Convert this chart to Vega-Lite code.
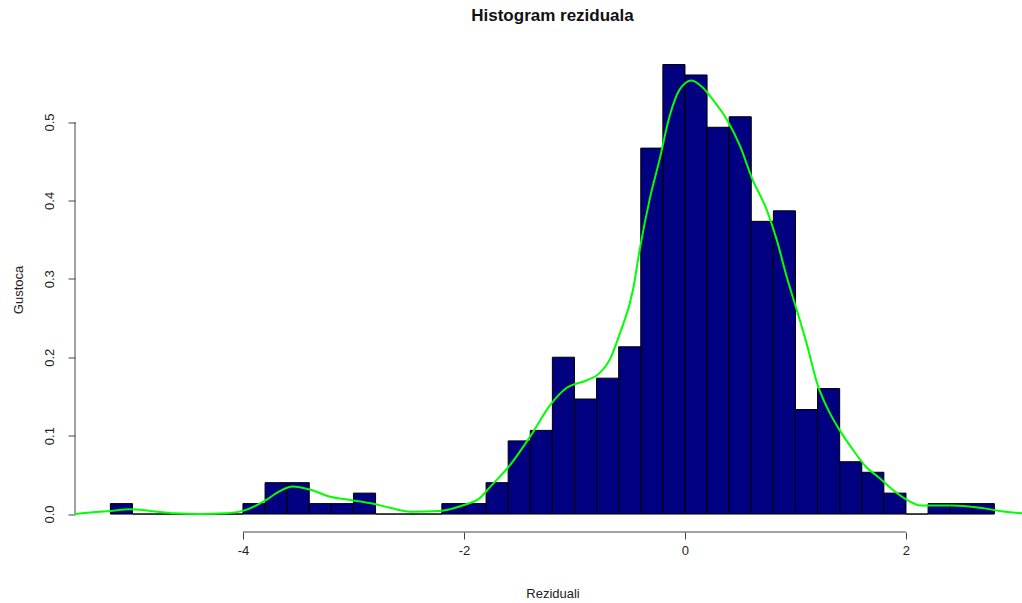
{
  "$schema": "https://vega.github.io/schema/vega-lite/v6.json",
  "width": 947,
  "height": 485.5,
  "autosize": {"type": "none"},
  "padding": {"left": 75, "top": 46.5, "right": 0, "bottom": 71},
  "background": "white",
  "title": {
    "text": "Histogram reziduala",
    "font": "Liberation Sans",
    "fontSize": 17,
    "fontWeight": "bold",
    "color": "#111",
    "anchor": "middle",
    "frame": "group",
    "dx": 4,
    "offset": 22
  },
  "config": {
    "view": {"stroke": null},
    "axis": {
      "domain": false,
      "grid": false,
      "tickColor": "#444",
      "tickSize": 7,
      "tickWidth": 1,
      "labelFont": "Liberation Sans",
      "labelFontSize": 13,
      "labelColor": "#222",
      "titleFont": "Liberation Sans",
      "titleFontSize": 13,
      "titleFontWeight": "normal",
      "titleColor": "#222"
    }
  },
  "layer": [
    {
      "data": {
        "values": [
          {"bin_start": -5.2, "bin_end": -5.0, "density": 0.0133},
          {"bin_start": -5.0, "bin_end": -4.8, "density": 0},
          {"bin_start": -4.8, "bin_end": -4.6, "density": 0},
          {"bin_start": -4.6, "bin_end": -4.4, "density": 0},
          {"bin_start": -4.4, "bin_end": -4.2, "density": 0},
          {"bin_start": -4.2, "bin_end": -4.0, "density": 0},
          {"bin_start": -4.0, "bin_end": -3.8, "density": 0.0133},
          {"bin_start": -3.8, "bin_end": -3.6, "density": 0.04},
          {"bin_start": -3.6, "bin_end": -3.4, "density": 0.04},
          {"bin_start": -3.4, "bin_end": -3.2, "density": 0.0133},
          {"bin_start": -3.2, "bin_end": -3.0, "density": 0.0133},
          {"bin_start": -3.0, "bin_end": -2.8, "density": 0.0267},
          {"bin_start": -2.8, "bin_end": -2.6, "density": 0},
          {"bin_start": -2.6, "bin_end": -2.4, "density": 0},
          {"bin_start": -2.4, "bin_end": -2.2, "density": 0},
          {"bin_start": -2.2, "bin_end": -2.0, "density": 0.0133},
          {"bin_start": -2.0, "bin_end": -1.8, "density": 0.0133},
          {"bin_start": -1.8, "bin_end": -1.6, "density": 0.04},
          {"bin_start": -1.6, "bin_end": -1.4, "density": 0.0933},
          {"bin_start": -1.4, "bin_end": -1.2, "density": 0.1067},
          {"bin_start": -1.2, "bin_end": -1.0, "density": 0.2},
          {"bin_start": -1.0, "bin_end": -0.8, "density": 0.1467},
          {"bin_start": -0.8, "bin_end": -0.6, "density": 0.1733},
          {"bin_start": -0.6, "bin_end": -0.4, "density": 0.2133},
          {"bin_start": -0.4, "bin_end": -0.2, "density": 0.4667},
          {"bin_start": -0.2, "bin_end": 0.0, "density": 0.5733},
          {"bin_start": 0.0, "bin_end": 0.2, "density": 0.56},
          {"bin_start": 0.2, "bin_end": 0.4, "density": 0.4933},
          {"bin_start": 0.4, "bin_end": 0.6, "density": 0.5067},
          {"bin_start": 0.6, "bin_end": 0.8, "density": 0.3733},
          {"bin_start": 0.8, "bin_end": 1.0, "density": 0.3867},
          {"bin_start": 1.0, "bin_end": 1.2, "density": 0.1333},
          {"bin_start": 1.2, "bin_end": 1.4, "density": 0.16},
          {"bin_start": 1.4, "bin_end": 1.6, "density": 0.0667},
          {"bin_start": 1.6, "bin_end": 1.8, "density": 0.0533},
          {"bin_start": 1.8, "bin_end": 2.0, "density": 0.0267},
          {"bin_start": 2.0, "bin_end": 2.2, "density": 0},
          {"bin_start": 2.2, "bin_end": 2.4, "density": 0.0133},
          {"bin_start": 2.4, "bin_end": 2.6, "density": 0.0133},
          {"bin_start": 2.6, "bin_end": 2.8, "density": 0.0133}
        ]
      },
      "mark": {"type": "rect", "fill": "#000080", "stroke": "#000000", "strokeWidth": 1},
      "encoding": {
        "x": {
          "field": "bin_start",
          "type": "quantitative",
          "scale": {"domain": [-5.52, 3.05], "nice": false, "zero": false},
          "axis": {"values": [-4, -2, 0, 2], "labelExpr": "'' + datum.value", "labelPadding": 5, "titleX": 477.5, "titleY": 61, "titleBaseline": "middle", "titleAlign": "center"},
          "title": "Reziduali"
        },
        "x2": {"field": "bin_end"},
        "y": {
          "field": "density",
          "type": "quantitative",
          "scale": {"domain": [-0.0229, 0.5963], "nice": false, "zero": false},
          "axis": {"values": [0, 0.1, 0.2, 0.3, 0.4, 0.5], "format": ".1f", "labelAngle": -90, "labelAlign": "center", "labelBaseline": "bottom", "labelPadding": 12, "titleX": -57, "titleY": 243, "titleBaseline": "middle", "titleAlign": "center", "titleAngle": -90},
          "title": "Gustoca"
        },
        "y2": {"datum": 0}
      }
    },
    {
      "data": {
        "values": [
          {"x1": -4, "x2": 2, "y1": -0.0229, "y2": -0.0229},
          {"x1": -5.52, "x2": -5.52, "y1": 0, "y2": 0.5}
        ]
      },
      "mark": {"type": "rule", "color": "#444", "strokeWidth": 1},
      "encoding": {
        "x": {"field": "x1", "type": "quantitative", "title": "Reziduali"},
        "x2": {"field": "x2"},
        "y": {"field": "y1", "type": "quantitative", "title": "Gustoca"},
        "y2": {"field": "y2"}
      }
    },
    {
      "data": {
        "values": [
          {"x": -5.52, "density": 0.0},
          {"x": -5.38, "density": 0.002},
          {"x": -5.2, "density": 0.004},
          {"x": -5.02, "density": 0.006},
          {"x": -4.84, "density": 0.004},
          {"x": -4.62, "density": 0.001},
          {"x": -4.39, "density": 0.0},
          {"x": -4.16, "density": 0.001},
          {"x": -4.0, "density": 0.004},
          {"x": -3.8, "density": 0.017},
          {"x": -3.67, "density": 0.029},
          {"x": -3.55, "density": 0.035},
          {"x": -3.39, "density": 0.031},
          {"x": -3.21, "density": 0.022},
          {"x": -3.03, "density": 0.018},
          {"x": -2.85, "density": 0.014},
          {"x": -2.67, "density": 0.008},
          {"x": -2.49, "density": 0.003},
          {"x": -2.22, "density": 0.004},
          {"x": -2.0, "density": 0.0115},
          {"x": -1.86, "density": 0.02},
          {"x": -1.76, "density": 0.035},
          {"x": -1.58, "density": 0.063},
          {"x": -1.4, "density": 0.099},
          {"x": -1.22, "density": 0.139},
          {"x": -1.07, "density": 0.161},
          {"x": -0.9, "density": 0.17},
          {"x": -0.77, "density": 0.18},
          {"x": -0.68, "density": 0.197},
          {"x": -0.59, "density": 0.23},
          {"x": -0.47, "density": 0.286},
          {"x": -0.41, "density": 0.337},
          {"x": -0.32, "density": 0.401},
          {"x": -0.23, "density": 0.452},
          {"x": -0.14, "density": 0.507},
          {"x": -0.05, "density": 0.541},
          {"x": 0.06, "density": 0.553},
          {"x": 0.16, "density": 0.544},
          {"x": 0.25, "density": 0.529},
          {"x": 0.38, "density": 0.503},
          {"x": 0.5, "density": 0.469},
          {"x": 0.61, "density": 0.427},
          {"x": 0.74, "density": 0.388},
          {"x": 0.83, "density": 0.35},
          {"x": 0.92, "density": 0.303},
          {"x": 1.01, "density": 0.261},
          {"x": 1.1, "density": 0.218},
          {"x": 1.2, "density": 0.165},
          {"x": 1.31, "density": 0.129},
          {"x": 1.4, "density": 0.107},
          {"x": 1.52, "density": 0.082},
          {"x": 1.64, "density": 0.06},
          {"x": 1.76, "density": 0.046},
          {"x": 1.88, "density": 0.031},
          {"x": 2.01, "density": 0.018},
          {"x": 2.13, "density": 0.011},
          {"x": 2.42, "density": 0.011},
          {"x": 2.67, "density": 0.008},
          {"x": 2.85, "density": 0.004},
          {"x": 3.05, "density": 0.001}
        ]
      },
      "mark": {"type": "line", "color": "#00FF00", "strokeWidth": 2, "interpolate": "monotone", "clip": true},
      "encoding": {
        "x": {"field": "x", "type": "quantitative", "title": "Reziduali"},
        "y": {"field": "density", "type": "quantitative", "title": "Gustoca"}
      }
    }
  ]
}
